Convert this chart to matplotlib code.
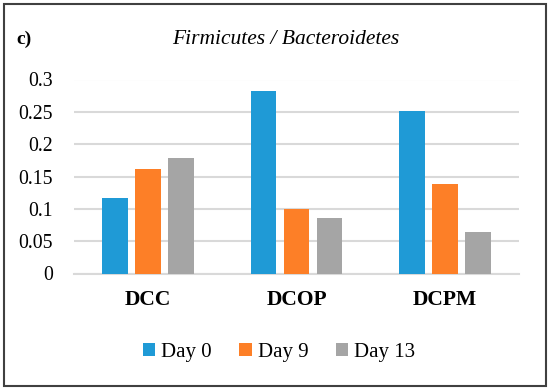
import matplotlib
matplotlib.use("Agg")
import matplotlib.pyplot as plt
import numpy as np
from matplotlib.patches import Rectangle

categories = ["DCC", "DCOP", "DCPM"]
series_names = ["Day 0", "Day 9", "Day 13"]
day0 = [0.116, 0.282, 0.252]
day9 = [0.161, 0.100, 0.139]
day13 = [0.178, 0.086, 0.064]
yticks = [0, 0.05, 0.1, 0.15, 0.2, 0.25, 0.3]
ytick_labels = ["0", "0.05", "0.1", "0.15", "0.2", "0.25", "0.3"]
colors = ["#1F9AD6", "#FD7F27", "#A5A5A5"]

plt.rcParams['font.family'] = ['Liberation Serif', 'DejaVu Serif']

fig = plt.figure(figsize=(5.5, 3.92), dpi=100)
ax = fig.add_axes([74/550, 1-273.5/392, (519-74)/550, (273.5-79.5)/392])

x = np.arange(len(categories))
offset = 0.2225
width = 0.175
for i, (vals, name) in enumerate(zip([day0, day9, day13], series_names)):
    ax.bar(x + (i-1)*offset, vals, width, color=colors[i], label=name, zorder=3)

ax.set_xlim(-0.5, 2.5)
ax.set_ylim(0, 0.3)
ax.set_yticks(yticks)
ax.set_yticklabels(ytick_labels, fontsize=14.2)
ax.set_xticks(x)
ax.set_xticklabels(categories, fontsize=15.5, fontweight='bold')
ax.tick_params(axis='both', length=0)
ax.tick_params(axis='y', pad=15)
ax.tick_params(axis='x', pad=12)
ax.yaxis.grid(True, color='#D9D9D9', linewidth=1.5, zorder=0)
for s in ['top', 'right', 'left']:
    ax.spines[s].set_visible(False)
ax.spines['bottom'].set_color('#D9D9D9')
ax.spines['bottom'].set_linewidth(1.5)

fig.text(286/550, 1-39/392, "Firmicutes / Bacteroidetes", fontsize=15.5, style='italic',
         ha='center', va='center')
fig.text(16/550, 1-39/392, "c)", fontsize=14, fontweight='bold', ha='left', va='center')

leg = fig.legend(loc='center', bbox_to_anchor=(279/550, 1-352/392), ncol=3, frameon=False,
                 fontsize=15, handlelength=0.6, handleheight=0.6, handletextpad=0.3,
                 columnspacing=1.3)

fig.patches.append(Rectangle((4/550, 1-386/392), 542/550, 382/392, transform=fig.transFigure,
                             fill=False, edgecolor='#404040', linewidth=1.5))

fig.savefig("out.png", dpi=100)
